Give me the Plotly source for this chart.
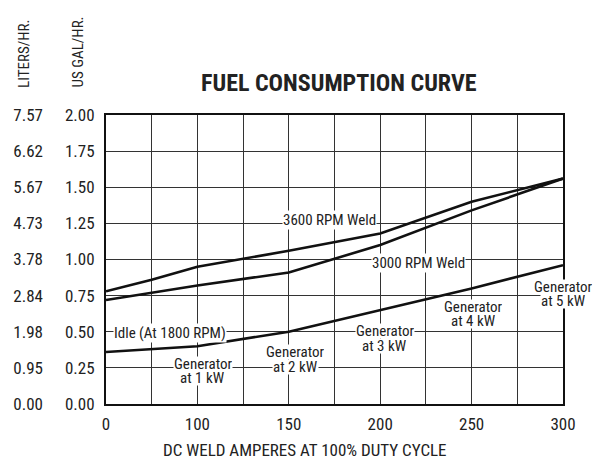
import numpy as np
import plotly.graph_objects as go

# ---- data ----
amps = [0, 50, 100, 150, 200, 250, 300]
weld_3600 = [0.78, 0.86, 0.95, 1.06, 1.18, 1.40, 1.56]
weld_3000 = [0.72, 0.77, 0.82, 0.91, 1.10, 1.34, 1.56]
idle_gen = [0.36, 0.38, 0.40, 0.50, 0.65, 0.80, 0.96]

x_tick_amps = [0, 100, 150, 200, 250, 300]
x_tick_labels = ["0", "100", "150", "200", "250", "300"]
gal_ticks = [0.0, 0.25, 0.5, 0.75, 1.0, 1.25, 1.5, 1.75, 2.0]
gal_labels = ["0.00", "0.25", "0.50", "0.75", "1.00", "1.25", "1.50", "1.75", "2.00"]
liter_labels = ["0.00", "0.95", "1.98", "2.84", "3.78", "4.73", "5.67", "6.62", "7.57"]

curve_labels = [["3600 RPM Weld"], ["3000 RPM Weld"], ["Idle (At 1800 RPM)"],
                ["Generator", "at 1 kW"], ["Generator", "at 2 kW"], ["Generator", "at 3 kW"],
                ["Generator", "at 4 kW"], ["Generator", "at 5 kW"]]
label_amps = [172, 221, 70, 103, 153.5, 202.5, 251, 301]
label_gal = [1.273, 0.976, 0.49, 0.229, 0.309, 0.453, 0.623, 0.761]

# non-uniform amp scale of the printed grid (0-100 over 2 columns, then 25 A per column)
def amp_pos(a):
    return np.interp(a, [0, 100, 300], [0, 2, 10])

FONT = "Liberation Sans Narrow, Arial Narrow, Roboto Condensed, Liberation Sans, sans-serif"
INK = "#222222"
LINE_GAP = 14.3

fig = go.Figure()
for ys in (weld_3600, weld_3000, idle_gen):
    fig.add_trace(go.Scatter(x=amp_pos(amps), y=ys, mode="lines",
                             line=dict(color="#111111", width=2.6), showlegend=False,
                             hoverinfo="skip"))
# invisible trace for the second (liters) axis
fig.add_trace(go.Scatter(x=[0], y=[0], yaxis="y2", mode="markers",
                         marker=dict(opacity=0), showlegend=False, hoverinfo="skip"))

for lines, a, g in zip(curve_labels, label_amps, label_gal):
    n = len(lines)
    for i, txt in enumerate(lines):
        fig.add_annotation(x=float(amp_pos(a)), y=g, xref="x", yref="y", text=txt,
                           yshift=((n - 1) / 2 - i) * LINE_GAP,
                           height=(LINE_GAP if n > 1 else None),
                           showarrow=False, bgcolor="white", xanchor="center",
                           yanchor="middle",
                           font=dict(family=FONT, size=15, color=INK), borderpad=0)

# page body adds an 8px offset, margins compensate
fig.update_layout(
    width=605, height=460,
    margin=dict(l=98, r=50, t=107, b=64, autoexpand=False),
    paper_bgcolor="white", plot_bgcolor="white",
    font=dict(family=FONT, size=17, color=INK),
    xaxis=dict(range=[0, 10], tickvals=amp_pos(x_tick_amps).tolist(), ticktext=x_tick_labels,
               showgrid=True, gridcolor="#333333", gridwidth=1,
               minor=dict(dtick=1, showgrid=True, gridcolor="#333333", gridwidth=1),
               showline=True, linecolor="#111111", linewidth=2, mirror=True,
               zeroline=False, ticks="", ticklabelstandoff=4, automargin=False),
    yaxis=dict(range=[0, 2], tickvals=gal_ticks, ticktext=gal_labels,
               showgrid=True, gridcolor="#333333", gridwidth=1,
               showline=True, linecolor="#111111", linewidth=2, mirror=True,
               zeroline=False, ticks="", ticklabelstandoff=6, automargin=False),
    yaxis2=dict(range=[0, 2], tickvals=gal_ticks, ticktext=liter_labels,
                overlaying="y", anchor="free", position=0, side="left",
                showgrid=False, showline=False, zeroline=False, ticks="",
                ticklabelstandoff=63, automargin=False),
)

fig.add_annotation(text="<b>FUEL CONSUMPTION CURVE</b>", xref="paper", yref="paper",
                   x=0.51, y=1.0, yshift=32, xanchor="center", yanchor="middle",
                   showarrow=False, font=dict(family=FONT, size=24, color=INK))
fig.add_annotation(text="DC WELD AMPERES AT 100% DUTY CYCLE", xref="paper", yref="paper",
                   x=0.5, xshift=-30, y=0, yshift=-46, xanchor="center", yanchor="middle",
                   showarrow=False, font=dict(family=FONT, size=17, color=INK))
fig.add_annotation(text="LITERS/HR.", xref="paper", yref="paper", x=0, xshift=-82,
                   xanchor="center", y=1, yshift=25, yanchor="bottom", textangle=-90,
                   showarrow=False, font=dict(family=FONT, size=15, color=INK))
fig.add_annotation(text="US GAL/HR.", xref="paper", yref="paper", x=0, xshift=-29,
                   xanchor="center", y=1, yshift=25, yanchor="bottom", textangle=-90,
                   showarrow=False, font=dict(family=FONT, size=15, color=INK))

fig.write_html("out.html")
